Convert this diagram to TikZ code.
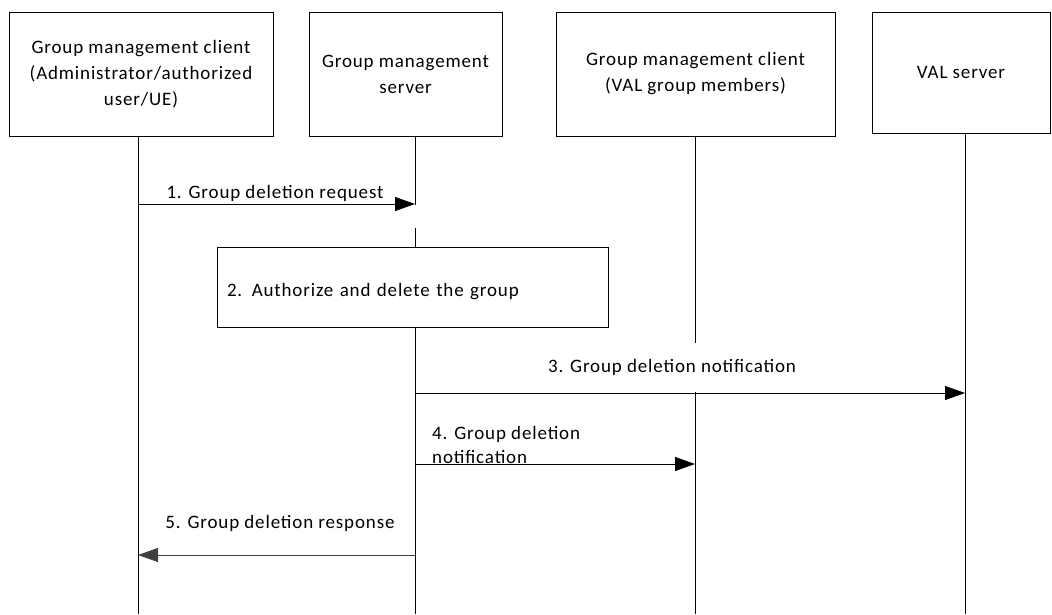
\documentclass[tikz,border=0pt]{standalone}
\usepackage{fontspec}
\setmainfont[LetterSpace=4.5]{Carlito}
\usetikzlibrary{arrows.meta,positioning}
\definecolor{msggray}{HTML}{404040}

\begin{document}
\begin{tikzpicture}[x=1pt, y=-1pt,
    font=\fontsize{19}{26}\selectfont,
    actor/.style={rectangle, draw, line width=0.9pt, align=center, inner sep=0pt},
    life/.style={line width=0.9pt},
    msg/.style={-{Triangle[length=20pt, width=14pt]}, line width=0.9pt},
    lbl/.style={inner sep=0pt}
]
    \useasboundingbox (0,0) rectangle (1052,614);

    % Actor boxes
    \node[actor, minimum width=264, minimum height=124] (gmcA) at (141,74)
        {Group management client\\(Administrator/authorized\\user/UE)};
    \node[actor, minimum width=193, minimum height=124] (gms) at (405.5,74)
        {Group management\\server};
    \node[actor, minimum width=279, minimum height=124] (gmcM) at (695.5,74)
        {Group management client\\(VAL group members)};
    \node[actor, minimum width=178, minimum height=121] (val) at (961,72.5)
        {VAL server};

    % Processing box
    \node[actor, minimum width=391, minimum height=80, text width=371, text height=23pt, text depth=4pt, align=left] (auth) at (412.5,287)
        {2. Authorize and delete the group};

    % Lifeline points
    \coordinate (a0) at (138,136);   \coordinate (a1) at (138,614);
    \coordinate (b0) at (415,136);   \coordinate (b1) at (415,205);
    \coordinate (b2) at (415,228);   \coordinate (b3) at (415,614);
    \coordinate (c0) at (695,136);   \coordinate (c1) at (695,343);
    \coordinate (c2) at (695,392);   \coordinate (c3) at (695,614);
    \coordinate (d0) at (965,133);   \coordinate (d1) at (965,614);

    % Lifelines
    \draw[life] (a0) -- (a1);
    \draw[life] (b0) -- (b1);
    \draw[life] (b2) -- (b2 |- auth.north);
    \draw[life] (b2 |- auth.south) -- (b3);
    \draw[life] (c0) -- (c1);
    \draw[life] (c2) -- (c3);
    \draw[life] (d0) -- (d1);

    % Messages
    \draw[msg] (138,204) coordinate (m1s) -- (415,204) coordinate (m1e);
    \node[lbl] (m1) at (275,193) {1. Group deletion request};

    \draw[msg] (415,393) coordinate (m3s) -- (965,393) coordinate (m3e);
    \node[lbl] (m3) at (672,367) {3. Group deletion notification};

    \draw[msg] (415,464) coordinate (m4s) -- (695,464) coordinate (m4e);
    \node[lbl, anchor=north west, align=left, font=\fontsize{19}{24}\selectfont] (m4) at (432,426) {4. Group deletion\\notification};

    \draw[msg, msggray] (415,555) coordinate (m5s) -- (138,555) coordinate (m5e);
    \node[lbl] (m5) at (280,523) {5. Group deletion response};

\end{tikzpicture}
\end{document}
